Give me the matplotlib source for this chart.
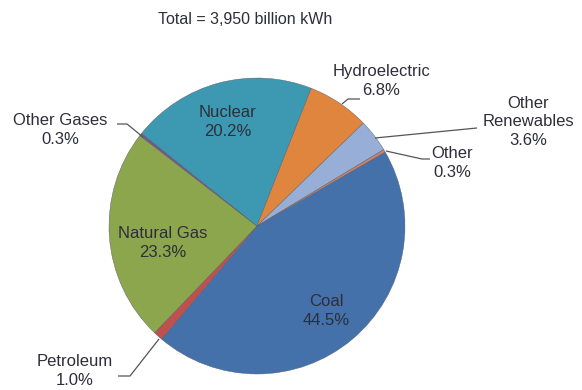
import matplotlib.pyplot as plt

# Electricity generation by source
sources = ["Coal", "Petroleum", "Natural Gas", "Other Gases",
           "Nuclear", "Hydroelectric", "Other\nRenewables", "Other"]
shares = [44.5, 1.0, 23.3, 0.3, 20.2, 6.8, 3.6, 0.3]
colors = ["#4471AA", "#C0504D", "#8BA64C", "#6E5A8E",
          "#3D98B1", "#E0853D", "#97AED6", "#C8826A"]
total_label = "Total = 3,950 billion kWh"

W, H = 582, 390


def px(x, y):
    # canvas pixels (origin top-left) -> axes data coords
    return x, H - y


plt.rcParams["font.family"] = ["Liberation Sans", "DejaVu Sans"]
text_color = "#2e2e3a"

fig = plt.figure(figsize=(W / 100, H / 100), dpi=100)
ax = fig.add_axes([0, 0, 1, 1])

ax.pie(shares, colors=colors, startangle=30, counterclock=False,
       center=px(257, 226), radius=148,
       wedgeprops=dict(edgecolor="#5a5a66", linewidth=0.3))

ax.set_xlim(0, W)
ax.set_ylim(0, H)
ax.set_aspect("equal")
ax.axis("off")

# label anchor points (centre of each label block)
label_pos = {
    "Coal": (326, 311),
    "Petroleum": (75, 371),
    "Natural Gas": (163, 243),
    "Other Gases": (60, 130),
    "Nuclear": (228, 122),
    "Hydroelectric": (381, 81),
    "Other\nRenewables": (528, 122),
    "Other": (452, 163),
}

for name, val in zip(sources, shares):
    x, y = px(*label_pos[name])
    ax.text(x, y, f"{name}\n{val:.1f}%", ha="center", va="center",
            multialignment="center", fontsize=12, color=text_color,
            linespacing=1.3)

# leader lines for the small slices
leaders = [
    [(159, 339), (130, 376), (118, 376)],   # Petroleum
    [(143, 137), (127, 124), (117, 124)],   # Other Gases
    [(342, 104), (348, 99), (360, 99)],     # Hydroelectric
    [(375, 138), (477, 128)],               # Other Renewables
    [(386, 151), (422, 159), (430, 159)],   # Other
]
for pts in leaders:
    xs, ys = zip(*[px(*p) for p in pts])
    ax.plot(xs, ys, color="#555555", lw=0.9, solid_capstyle="butt")

ax.text(*px(245, 20), total_label, ha="center", va="center",
        fontsize=11.5, color=text_color)

fig.savefig("out.png", dpi=100)
